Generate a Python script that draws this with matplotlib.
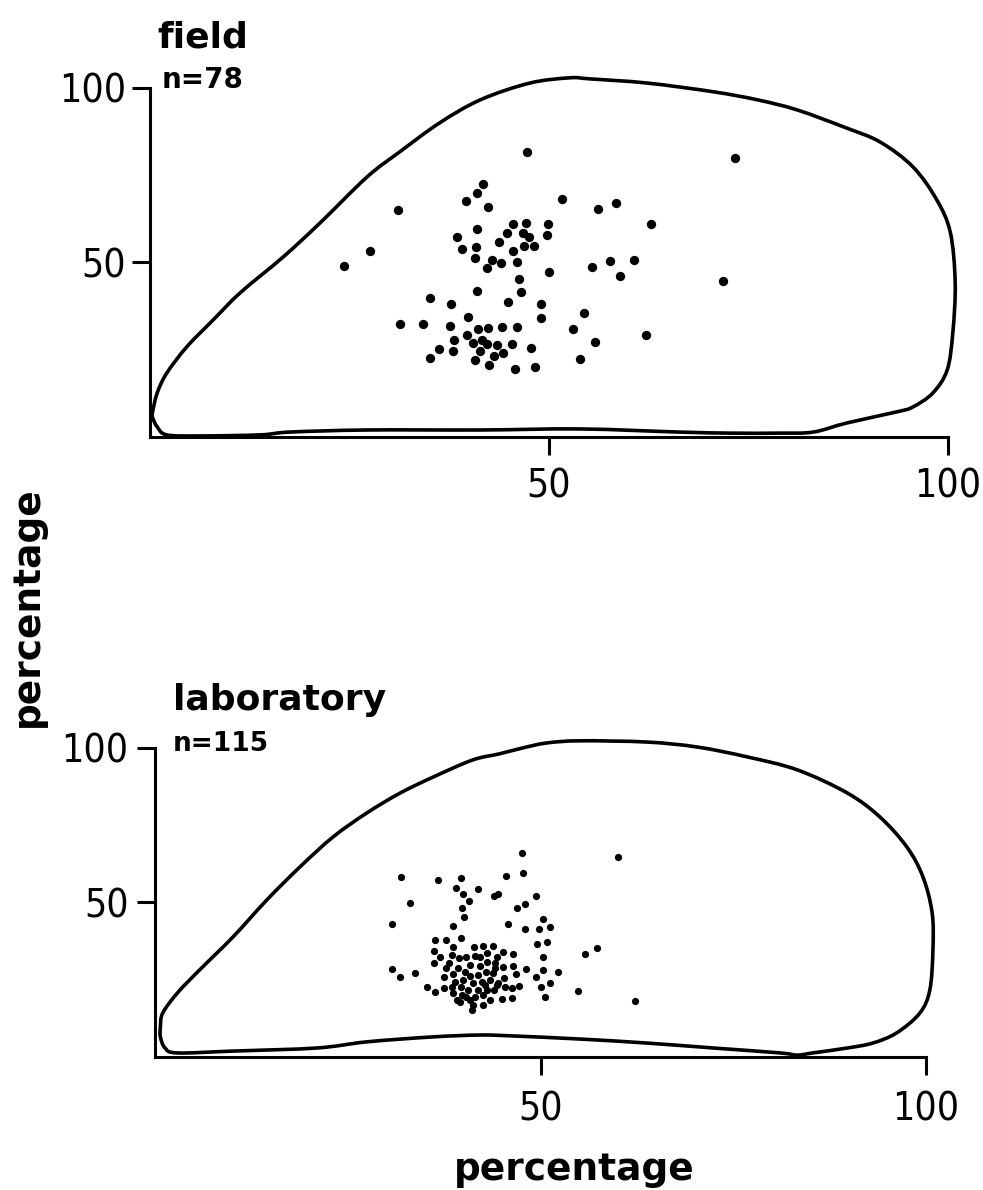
import numpy as np
import matplotlib
matplotlib.use('Agg')
from matplotlib import pyplot as plt
from matplotlib.path import Path
from matplotlib.patches import PathPatch

# outline of the field panel (percent, percent)
field_outline_x = [0.3, 0.9, 2.1, 4.6, 7.9, 11.3, 16.7, 21.3, 27.2, 31.3, 36.3, 41.4, 47.6, 52.6,
                   55.1, 62.3, 70.6, 76.1, 81.1, 87.3, 91.5, 95.6, 98.6, 100.3, 100.9, 100.6,
                   99.9, 98.1, 95.6, 93.6, 87.3, 83.1, 78.9, 72.7, 66.4, 53.9, 41.4, 27.2,
                   17.5, 13.8, 6.3, 2.1, 0.9, 0.3]
field_outline_y = [6.9, 12.6, 18.3, 25.8, 33.5, 41.3, 51.6, 61.3, 74.5, 81.7, 90.0, 96.6, 101.4,
                   102.9, 102.6, 101.4, 98.9, 96.6, 93.7, 88.5, 84.5, 77.4, 67.9, 58.5, 44.1,
                   29.8, 19.2, 12.6, 8.6, 7.2, 4.0, 1.4, 1.1, 1.1, 1.4, 2.3, 2.0, 2.0, 1.4,
                   0.6, 0.3, 0.6, 2.9, 5.7]

# outline of the laboratory panel
lab_outline_x = [0.7, 1.0, 2.9, 5.8, 10.1, 14.5, 18.8, 23.1, 27.5, 31.8, 36.1, 41.2, 44.7, 47.7,
                 50.8, 55.1, 63.8, 70.3, 76.8, 83.3, 89.8, 94.0, 97.5, 99.6, 100.8, 100.9,
                 100.5, 99.2, 96.2, 93.1, 89.8, 85.3, 83.3, 81.1, 72.4, 63.8, 55.1, 46.4,
                 42.2, 36.1, 27.5, 21.0, 10.1, 2.9, 1.3, 0.7]
lab_outline_y = [9.7, 14.2, 20.7, 28.2, 38.8, 50.8, 61.5, 71.2, 79.0, 85.4, 90.6, 96.1, 98.1,
                 100.0, 101.6, 102.3, 101.9, 100.3, 97.1, 92.9, 85.4, 77.7, 68.0, 58.3, 46.6,
                 34.6, 21.7, 14.2, 7.8, 4.5, 2.9, 1.3, 0.6, 1.3, 2.9, 4.5, 5.8, 6.8, 7.1,
                 6.5, 4.9, 2.9, 1.9, 1.3, 2.9, 6.5]

# field observations n=78
field_x = [47.2, 41.7, 41.0, 39.6, 42.4, 31.1, 51.6, 56.1, 58.4, 62.8, 41.0, 45.5, 47.1, 49.9,
           38.5, 44.7, 46.7, 47.5, 49.7, 43.7, 27.6, 39.1, 40.9, 45.5, 46.9, 48.1, 24.3, 40.7,
           42.9, 44.0, 46.0, 42.2, 50.0, 55.4, 57.6, 60.7, 58.9, 46.2, 41.0, 46.5, 35.1, 37.7,
           44.9, 49.0, 39.8, 49.0, 54.4, 31.3, 34.2, 37.6, 41.1, 42.4, 44.1, 46.0, 53.0, 62.2,
           39.7, 38.1, 40.5, 41.6, 42.2, 43.5, 45.4, 47.7, 55.8, 36.2, 38.0, 41.4, 43.1, 44.2,
           35.1, 40.7, 53.9, 42.5, 45.7, 48.2, 73.3, 71.8]
field_y = [81.7, 72.5, 69.9, 67.6, 65.9, 65.0, 68.2, 65.3, 67.0, 61.0, 59.6, 61.0, 61.3, 61.0,
           57.3, 58.5, 58.5, 57.3, 57.9, 55.9, 53.3, 53.9, 54.4, 53.3, 54.7, 54.7, 49.0, 51.3,
           50.7, 49.9, 50.1, 48.4, 47.3, 48.7, 50.4, 50.7, 46.1, 45.3, 41.8, 41.5, 39.8, 38.1,
           38.7, 38.1, 34.4, 34.1, 35.5, 32.4, 32.4, 31.8, 30.9, 31.2, 31.5, 31.5, 30.9, 29.2,
           29.2, 27.8, 26.9, 27.8, 26.6, 26.4, 26.6, 25.5, 27.2, 25.2, 24.6, 24.6, 23.2, 24.1,
           22.6, 22.1, 22.3, 20.6, 19.5, 20.1, 79.9, 44.7]

# laboratory observations n=115
lab_x = [47.6, 60.1, 31.9, 36.7, 39.7, 45.5, 47.7, 39.0, 41.9, 39.9, 40.7, 44.0, 44.5, 49.4,
         33.1, 39.8, 47.0, 48.0, 40.1, 30.7, 38.7, 45.8, 48.0, 49.8, 50.3, 51.2, 37.7, 39.7,
         49.5, 50.8, 55.8, 57.3, 45.1, 46.4, 50.3, 48.1, 49.4, 50.3, 52.3, 46.4, 46.8, 45.3,
         47.2, 50.1, 51.2, 54.9, 62.3, 50.6, 45.0, 46.3, 36.3, 38.7, 41.4, 42.5, 43.8, 36.2,
         38.5, 39.4, 40.3, 41.5, 42.2, 43.1, 44.4, 36.2, 38.1, 40.9, 43.1, 44.1, 30.7, 31.8,
         33.7, 37.5, 38.7, 39.3, 40.2, 40.9, 41.9, 42.9, 43.8, 38.9, 39.9, 41.2, 42.4, 43.5,
         44.5, 35.3, 36.3, 37.5, 38.5, 39.7, 40.6, 41.9, 43.1, 38.7, 40.3, 41.5, 42.5, 39.6,
         41.2, 43.5, 41.1, 42.5, 44.1, 44.4, 45.4, 46.3, 45.1, 37.7, 42.2, 39.8, 44.0, 39.2,
         37.0, 40.9, 42.8]
lab_y = [66.0, 64.7, 58.3, 57.3, 57.9, 58.6, 59.5, 54.7, 54.4, 52.8, 50.5, 52.1, 52.8, 52.1,
         49.8, 48.2, 48.2, 49.5, 45.3, 43.0, 42.4, 43.0, 41.4, 41.4, 44.7, 42.1, 37.9, 38.5,
         36.6, 37.2, 33.3, 35.3, 34.0, 33.3, 32.4, 28.5, 25.9, 28.2, 27.5, 29.4, 26.9, 25.6,
         23.0, 22.7, 23.9, 21.4, 18.1, 19.4, 18.8, 19.1, 37.9, 35.6, 35.6, 35.9, 35.9, 34.3,
         33.0, 32.0, 32.4, 32.7, 32.4, 33.7, 32.4, 30.4, 30.4, 29.8, 30.7, 30.4, 28.5, 25.9,
         27.2, 25.9, 26.9, 28.8, 27.5, 26.2, 26.5, 27.5, 27.2, 24.3, 24.9, 23.9, 24.3, 24.9,
         23.9, 22.7, 21.0, 22.3, 22.7, 22.7, 21.7, 21.7, 21.7, 20.7, 19.4, 19.4, 20.1, 17.8,
         16.8, 18.4, 15.2, 16.8, 28.8, 23.3, 22.7, 22.3, 29.1, 28.8, 29.4, 20.1, 21.7, 18.4,
         32.4, 18.4, 23.3]

tick_values = [50, 100]
tick_labels = ['50', '100']

plt.rcParams['font.family'] = ['DejaVu Sans']

fig = plt.figure(figsize=(9.83, 11.90), dpi=100)
ax1 = fig.add_axes([0.1526, 0.6328, 0.8118, 0.2933])
ax2 = fig.add_axes([0.1577, 0.1118, 0.7843, 0.2597])


def closed_curve(xs, ys):
    # glatte geschlossene Kurve durch die Umrisspunkte (Catmull-Rom als Bezier)
    pts = np.column_stack([xs, ys])
    n = len(pts)
    verts = [pts[0]]
    codes = [Path.MOVETO]
    for i in range(n):
        p0, p1, p2, p3 = pts[(i - 1) % n], pts[i], pts[(i + 1) % n], pts[(i + 2) % n]
        verts += [p1 + (p2 - p0) / 6, p2 - (p3 - p1) / 6, p2]
        codes += [Path.CURVE4] * 3
    return Path(verts, codes)


def style_axis(ax, xpad, ypad):
    ax.set_xlim(0, 100)
    ax.set_ylim(0, 100)
    for side in ['top', 'right']:
        ax.spines[side].set_visible(False)
    for side in ['left', 'bottom']:
        ax.spines[side].set_linewidth(2.2)
    ax.set_xticks(tick_values)
    ax.set_xticklabels(tick_labels)
    ax.set_yticks(tick_values)
    ax.set_yticklabels(tick_labels)
    ax.tick_params(axis='both', length=13, width=2.2)
    ax.tick_params(axis='x', pad=xpad)
    ax.tick_params(axis='y', pad=ypad)
    for lab in ax.get_xticklabels() + ax.get_yticklabels():
        lab.set_fontsize(28)
        lab.set_fontstretch('condensed')
        lab.set_fontweight('light')


# top panel: field
style_axis(ax1, 9, 4)
ax1.add_patch(PathPatch(closed_curve(field_outline_x, field_outline_y), fill=False,
                        edgecolor='black', lw=2.6, clip_on=False))
ax1.scatter(field_x, field_y, s=45, color='black', linewidths=0, clip_on=False)

# bottom panel: laboratory
style_axis(ax2, 11, 6)
ax2.add_patch(PathPatch(closed_curve(lab_outline_x, lab_outline_y), fill=False,
                        edgecolor='black', lw=2.6, clip_on=False))
ax2.scatter(lab_x, lab_y, s=27, color='black', linewidths=0, clip_on=False)

fig.text(0.1597, 0.9605, 'field', fontsize=26, fontweight='bold', va='baseline')
fig.text(0.1648, 0.926, 'n=78', fontsize=20, fontweight='bold', va='baseline')
fig.text(0.176, 0.4034, 'laboratory', fontsize=26, fontweight='bold', va='baseline')
fig.text(0.176, 0.369, 'n=115', fontsize=19, fontweight='bold', va='baseline')

fig.text(0.0285, 0.49, 'percentage', fontsize=27, fontweight='bold', rotation=90,
         ha='center', va='center')
fig.text(0.584, 0.0084, 'percentage', fontsize=27, fontweight='bold', ha='center',
         va='baseline')

plt.savefig('out.png', dpi=100)
